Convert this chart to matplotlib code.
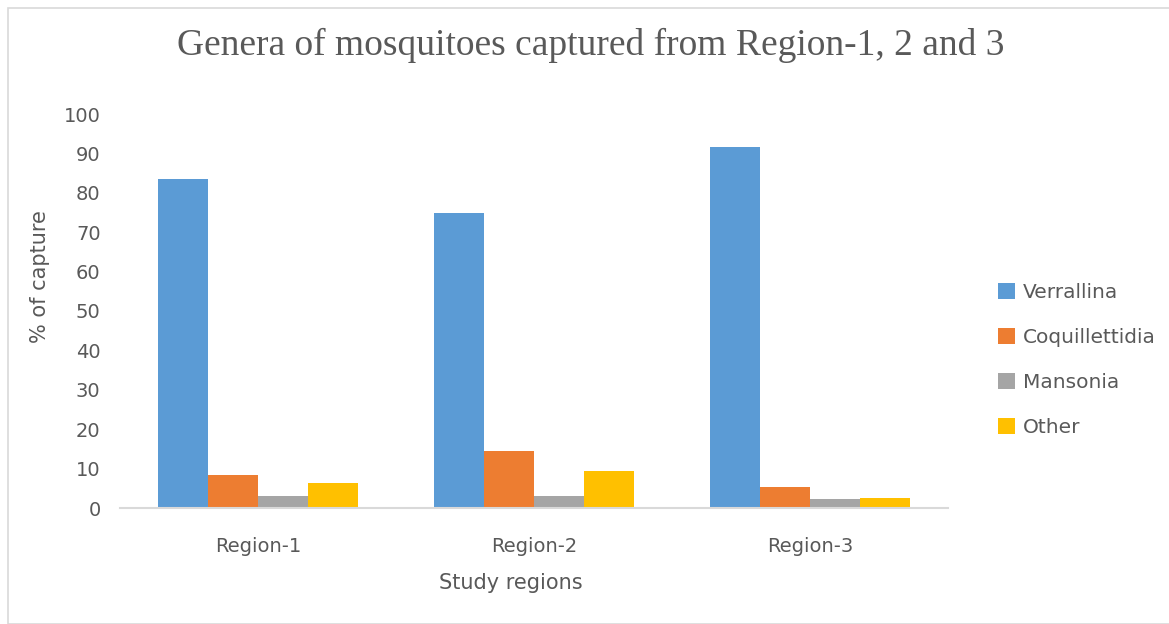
import matplotlib

matplotlib.use("Agg")

import matplotlib.pyplot as plt
import numpy as np
from matplotlib.patches import Rectangle

regions = ["Region-1", "Region-2", "Region-3"]
genera = ["Verrallina", "Coquillettidia", "Mansonia", "Other"]
verrallina = [83.5, 74.8, 91.7]
coquillettidia = [8.3, 14.4, 5.3]
mansonia = [3.1, 3.1, 2.2]
other = [6.3, 9.4, 2.5]
y_ticks = [0, 10, 20, 30, 40, 50, 60, 70, 80, 90, 100]

colors = ["#5b9bd5", "#ed7d31", "#a5a5a5", "#ffc000"]
text_gray = "#595959"

fig = plt.figure(figsize=(11.69, 6.24), dpi=100)
W, H = 1169, 624

# outer chart frame
fig.patches.append(Rectangle((8 / W, 0), 1.2, 1 - 8 / H, transform=fig.transFigure,
                             fill=False, edgecolor="#d9d9d9", linewidth=1.2))

ax = fig.add_axes([120 / W, 1 - 508 / H, 828 / W, (508 - 114) / H])

x = np.arange(len(regions))
bar_w = 50 / 276
series = [verrallina, coquillettidia, mansonia, other]
for i, (name, vals) in enumerate(zip(genera, series)):
    offset = (i - 1.5) * bar_w
    ax.bar(x + offset, vals, width=bar_w, color=colors[i], label=name, zorder=2)

ax.set_xlim(-0.5, 2.5)
ax.set_ylim(0, 100)
ax.set_yticks(y_ticks)
ax.set_xticks(x)
ax.set_xticklabels(regions)

for side in ["top", "right", "left"]:
    ax.spines[side].set_visible(False)
ax.spines["bottom"].set_color("#d9d9d9")
ax.spines["bottom"].set_linewidth(1.5)

ax.tick_params(axis="both", length=0, labelsize=14, labelcolor=text_gray)
ax.tick_params(axis="y", pad=14)
ax.tick_params(axis="x", pad=21)

fig.text(40 / W, 1 - 277 / H, "% of capture", rotation=90, ha="center", va="center",
         fontsize=15, color=text_gray)
fig.text(511 / W, 1 - 583 / H, "Study regions", ha="center", va="center",
         fontsize=15, color=text_gray)

fig.text(591 / W, 1 - 45 / H, "Genera of mosquitoes captured from Region-1, 2 and 3",
         ha="center", va="center", fontsize=27, color=text_gray,
         family="Liberation Serif")

ax.legend(loc="center left", bbox_to_anchor=(980 / W, 1 - 360 / H),
          bbox_transform=fig.transFigure, frameon=False, fontsize=14.5,
          labelcolor=text_gray, handlelength=0.85, handleheight=0.85,
          labelspacing=1.3, handletextpad=0.4)

fig.savefig("out.png", dpi=100)
